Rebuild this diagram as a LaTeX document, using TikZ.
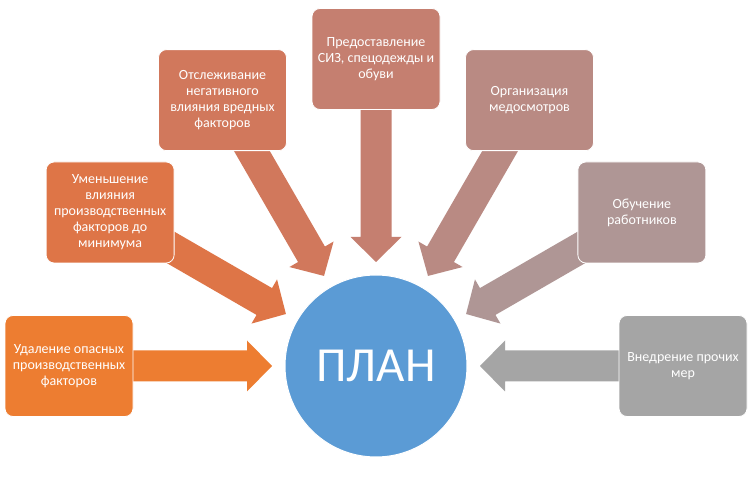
\documentclass[tikz,border=0pt]{standalone}
\usepackage{fontspec}
\setmainfont{Carlito}
\usetikzlibrary{calc}
\pgfdeclarelayer{bg}
\pgfsetlayers{bg,main}
\definecolor{c1}{HTML}{ED7D31}
\definecolor{c2}{HTML}{DE7547}
\definecolor{c3}{HTML}{D1785C}
\definecolor{c4}{HTML}{C57F70}
\definecolor{c5}{HTML}{B98A83}
\definecolor{c6}{HTML}{AF9695}
\definecolor{c7}{HTML}{A5A5A5}
\definecolor{planblue}{HTML}{5B9BD5}
\newcommand\blockarrow[2]{%
  \coordinate (#1hb) at ($(plan.center)!129pt!(#1.center)$);
  \coordinate (#1tip) at ($(plan.center)!104pt!(#1.center)$);
  \fill[#2] ($(#1.center)!15.5pt!90:(plan.center)$)
    -- ($(#1hb)!15.5pt!90:(plan.center)$)
    -- ($(#1hb)!25.5pt!90:(plan.center)$)
    -- (#1tip)
    -- ($(#1hb)!25.5pt!-90:(plan.center)$)
    -- ($(#1hb)!15.5pt!-90:(plan.center)$)
    -- ($(#1.center)!15.5pt!-90:(plan.center)$) -- cycle;}
\tikzset{
  itembox/.style={rectangle, rounded corners=8pt, minimum width=128pt,
    minimum height=101pt, draw=white, line width=0.8pt, text=white,
    align=center, inner sep=2pt, font=\fontsize{14}{16}\selectfont},
  plancircle/.style={circle, fill=planblue, draw=white, line width=1pt,
    minimum size=182pt, inner sep=0pt, text=white,
    font=\fontsize{49}{55}\selectfont}
}
\begin{document}
\begin{tikzpicture}
\useasboundingbox (0,0) rectangle (750pt,479pt);
\begin{pgfonlayer}{bg}
\fill[white] (0,0) rectangle (750pt,479pt);
\end{pgfonlayer}
\node[plancircle] (plan) at (376pt,113pt) {ПЛАН};
\node[itembox, fill=c1] (b1) at ($(plan.center)+(180:307pt)$) {Удаление опасных\\производственных\\факторов};
\node[itembox, fill=c2] (b2) at ($(plan.center)+(150:307pt)$) {Уменьшение\\влияния\\производственных\\факторов до\\минимума};
\node[itembox, fill=c3] (b3) at ($(plan.center)+(120:307pt)$) {Отслеживание\\негативного\\влияния вредных\\факторов};
\node[itembox, fill=c4] (b4) at ($(plan.center)+(90:307pt)$) {Предоставление\\СИЗ, спецодежды и\\обуви};
\node[itembox, fill=c5] (b5) at ($(plan.center)+(60:307pt)$) {Организация\\медосмотров};
\node[itembox, fill=c6] (b6) at ($(plan.center)+(30:307pt)$) {Обучение\\работников};
\node[itembox, fill=c7] (b7) at ($(plan.center)+(0:307pt)$) {Внедрение прочих\\мер};
\begin{pgfonlayer}{bg}
\blockarrow{b1}{c1}
\blockarrow{b2}{c2}
\blockarrow{b3}{c3}
\blockarrow{b4}{c4}
\blockarrow{b5}{c5}
\blockarrow{b6}{c6}
\blockarrow{b7}{c7}
\end{pgfonlayer}
\end{tikzpicture}
\end{document}
